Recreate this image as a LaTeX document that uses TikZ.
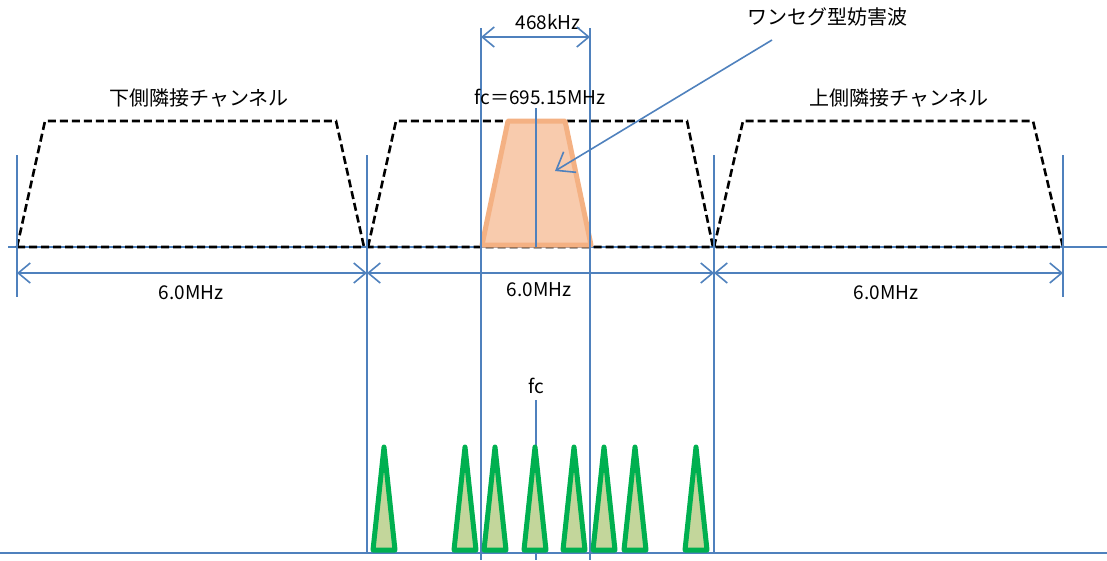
\documentclass[tikz,border=0pt]{standalone}
\usepackage{fontspec}
\setmainfont{Noto Sans CJK JP}
\usetikzlibrary{arrows.meta, positioning}
\definecolor{chBlue}{HTML}{4F81BD}
\definecolor{wsFill}{HTML}{F8CBAD}
\definecolor{wsEdge}{HTML}{F4B183}
\definecolor{spFill}{HTML}{C3D69B}
\definecolor{spEdge}{HTML}{00B050}
\tikzset{
  guide/.style    = {chBlue, line width=1.6pt},
  dimline/.style  = {chBlue, line width=1.6pt,
                     {Straight Barb[length=12pt, width=20pt]}-{Straight Barb[length=12pt, width=20pt]}},
  leader/.style   = {chBlue, line width=1.6pt, -{Straight Barb[length=16pt, width=24pt]}},
  chmask/.style   = {black, line width=2.6pt, dash pattern=on 8pt off 4pt},
  wsband/.style   = {fill=wsFill, draw=wsEdge, line width=5pt, line join=round},
  spur/.style     = {fill=spFill, draw=spEdge, line width=5pt, line join=round},
  jplbl/.style    = {font=\fontsize{20}{24}\selectfont, inner sep=0pt},
  numlbl/.style   = {font=\fontsize{19}{23}\selectfont, inner sep=0pt},
}
\begin{document}
\begin{tikzpicture}[x=1pt, y=-1pt]
  \useasboundingbox (0,0) rectangle (1107,560);

  % frequency axes
  \draw[guide] (8,247) -- (1107,247);
  \draw[guide] (0,553) -- (1107,553);

  % channel masks: lower, own, upper
  \draw[chmask] (17,247) -- (45,121) -- (336,121) -- (364,247) -- cycle;
  \draw[chmask] (368,247) -- (396,121) -- (687,121) -- (713,247) -- cycle;
  \draw[chmask] (714,247) -- (743,121) -- (1033,121) -- (1063,247) -- cycle;

  % one-seg interferer
  \draw[wsband] (482,245) -- (508,121) -- (565,121) -- (591,245) -- cycle;

  % channel edges and band edges
  \foreach \x/\yb in {17/297, 367/553, 714/553, 1063/297}
    \draw[guide] (\x,155) -- (\x,\yb);
  \foreach \x in {481,590}
    \draw[guide] (\x,28) -- (\x,560);

  % labels
  \node[jplbl] (loch) at (199,98) {下側隣接チャンネル};
  \node[jplbl] (upch) at (899,98) {上側隣接チャンネル};
  \node[jplbl] (wslbl) at (827,17) {ワンセグ型妨害波};
  \node[numlbl] (bwws) at (548,22) {468kHz};
  \node[numlbl] (fctop) at (540,97) {fc＝695.15MHz};
  \node[numlbl] (fclow) at (536,386) {fc};
  \node[numlbl] (bwlo) at (191,293) {6.0MHz};
  \node[numlbl] (bwown) at (539,290) {6.0MHz};
  \node[numlbl] (bwup) at (886,293) {6.0MHz};

  % centre frequency
  \coordinate (fcaxis) at (536,247);
  \coordinate (fcfoot) at (536,560);
  \draw[guide] (536,108) -- (fcaxis);
  \draw[guide] (fclow.south) ++(0,6) -- (fcfoot);

  % widths
  \draw[dimline] (481,37) -- (590,37);
  \foreach \xa/\xb in {17/367, 367/714, 714/1063}
    \draw[dimline] (\xa,273) -- (\xb,273);

  % pointer to the interferer
  \coordinate (wstail) at (772,40);
  \coordinate (wstip) at (555,171);
  \draw[leader] (wstail) -- (wstip);

  % spurious lines
  \foreach \x in {384,465,495,535,574,604,635,696}
    \draw[spur] (\x,447) -- ({\x+11},550) -- ({\x-11},550) -- cycle;
\end{tikzpicture}
\end{document}
